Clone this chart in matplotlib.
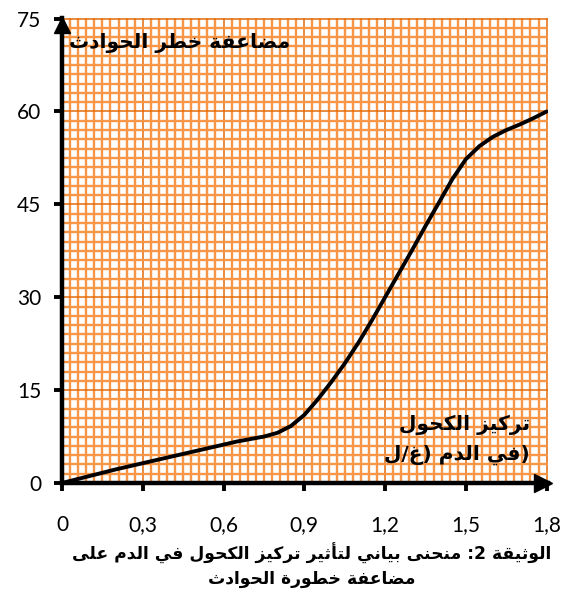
import re
import matplotlib
matplotlib.use("Agg")
import matplotlib.pyplot as plt
from matplotlib.ticker import MultipleLocator

# alcohol concentration in blood (g/L) vs accident risk multiplier
conc = [0, 0.1, 0.2, 0.3, 0.4, 0.5, 0.6, 0.65, 0.7, 0.75, 0.8, 0.85, 0.9,
        0.95, 1.0, 1.05, 1.1, 1.15, 1.2, 1.25, 1.3, 1.35, 1.4, 1.45, 1.5,
        1.55, 1.6, 1.65, 1.7, 1.75, 1.8]
risk = [0, 1.1, 2.2, 3.2, 4.2, 5.2, 6.2, 6.7, 7.1, 7.5, 8.1, 9.2, 11.0,
        13.5, 16.3, 19.3, 22.6, 26.2, 30.0, 33.8, 37.6, 41.5, 45.3, 49.1,
        52.3, 54.4, 55.9, 57.0, 57.9, 58.9, 60.0]

xticks = [0, 0.3, 0.6, 0.9, 1.2, 1.5, 1.8]
xticklabels = ["0", "0,3", "0,6", "0,9", "1,2", "1,5", "1,8"]
yticks = [0, 15, 30, 45, 60, 75]

ylabel_txt = "مضاعفة خطر الحوادث"
xlabel_line1 = "تركيز الكحول"
xlabel_line2 = "(في الدم (غ/ل"
caption_line1 = "الوثيقة 2: منحنى بياني لتأثير تركيز الكحول في الدم على"
caption_line2 = "مضاعفة خطورة الحوادث"

# arabic presentation forms: letter -> (isolated code, number of forms)
FORMS = {
    'ء': (0xFE80, 1), 'آ': (0xFE81, 2), 'أ': (0xFE83, 2), 'ؤ': (0xFE85, 2),
    'إ': (0xFE87, 2), 'ئ': (0xFE89, 4), 'ا': (0xFE8D, 2), 'ب': (0xFE8F, 4),
    'ة': (0xFE93, 2), 'ت': (0xFE95, 4), 'ث': (0xFE99, 4), 'ج': (0xFE9D, 4),
    'ح': (0xFEA1, 4), 'خ': (0xFEA5, 4), 'د': (0xFEA9, 2), 'ذ': (0xFEAB, 2),
    'ر': (0xFEAD, 2), 'ز': (0xFEAF, 2), 'س': (0xFEB1, 4), 'ش': (0xFEB5, 4),
    'ص': (0xFEB9, 4), 'ض': (0xFEBD, 4), 'ط': (0xFEC1, 4), 'ظ': (0xFEC5, 4),
    'ع': (0xFEC9, 4), 'غ': (0xFECD, 4), 'ف': (0xFED1, 4), 'ق': (0xFED5, 4),
    'ك': (0xFED9, 4), 'ل': (0xFEDD, 4), 'م': (0xFEE1, 4), 'ن': (0xFEE5, 4),
    'ه': (0xFEE9, 4), 'و': (0xFEED, 2), 'ى': (0xFEEF, 2), 'ي': (0xFEF1, 4),
}
MIRROR = {"(": ")", ")": "("}


def rtl(text):
    out = []
    for i, c in enumerate(text):
        if c not in FORMS:
            out.append(c)
            continue
        base, n = FORMS[c]
        prev = text[i - 1] if i > 0 else None
        nxt = text[i + 1] if i + 1 < len(text) else None
        jp = prev in FORMS and FORMS[prev][1] == 4
        jn = n == 4 and nxt in FORMS
        if n == 1:
            k = 0
        elif jp and jn:
            k = 3
        elif jp:
            k = 1
        elif jn:
            k = 2
        else:
            k = 0
        out.append(chr(base + k))
    tokens = re.findall(r"[0-9]+|.", "".join(out))
    return "".join(MIRROR.get(t, t) for t in reversed(tokens))


AR_FONT = "DejaVu Sans"
NUM_FONT = "Lato"

fig = plt.figure(figsize=(5.68, 6.09), dpi=100)
ax = fig.add_axes([62 / 568, 126 / 609, 486 / 568, 465 / 609])

ax.set_xlim(0, 1.805)
ax.set_ylim(0, 75.1)

# graph paper
ax.xaxis.set_minor_locator(MultipleLocator(0.03))
ax.yaxis.set_minor_locator(MultipleLocator(1.5))
ax.grid(which="minor", color="#F79646", lw=1.7, zorder=0)
ax.grid(which="major", color="#E26B0A", lw=1.1, zorder=0)
ax.set_axisbelow(True)

ax.plot(conc, risk, color="black", lw=2.8, zorder=3,
        solid_capstyle="round", solid_joinstyle="round")

ax.set_xticks(xticks)
ax.set_xticklabels(xticklabels)
ax.set_yticks(yticks)
ax.tick_params(which="minor", length=0)
ax.tick_params(which="major", direction="out", length=6, width=2.8,
               color="black", labelsize=15)
ax.tick_params(axis="x", pad=17)
ax.tick_params(axis="y", pad=9)
for lab in ax.get_xticklabels() + ax.get_yticklabels():
    lab.set_fontfamily(NUM_FONT)

for side in ("top", "right"):
    ax.spines[side].set_visible(False)
for side in ("left", "bottom"):
    ax.spines[side].set_linewidth(3.2)
    ax.spines[side].set_zorder(4)

# arrow heads on the axes
ax.plot(0.9895, 0, marker=">", ms=13, color="black", transform=ax.transAxes,
        clip_on=False, zorder=5)
ax.plot(0, 0.984, marker="^", ms=12, color="black", transform=ax.transAxes,
        clip_on=False, zorder=5)

ax.text(0.469, 0.946, rtl(ylabel_txt), transform=ax.transAxes, ha="right",
        va="center", fontsize=14.5, fontweight="bold", family=AR_FONT, zorder=6)
ax.text(0.963, 0.125, rtl(xlabel_line1), transform=ax.transAxes, ha="right",
        va="center", fontsize=14.5, fontweight="bold", family=AR_FONT, zorder=6)
ax.text(0.963, 0.06, rtl(xlabel_line2), transform=ax.transAxes, ha="right",
        va="center", fontsize=14.5, fontweight="bold", family=AR_FONT, zorder=6)

fig.text(0.548, 0.092, rtl(caption_line1), ha="center", va="center",
         fontsize=12.3, fontweight="bold", family=AR_FONT)
fig.text(0.548, 0.049, rtl(caption_line2), ha="center", va="center",
         fontsize=12.3, fontweight="bold", family=AR_FONT)

fig.savefig("out.png", dpi=100)
